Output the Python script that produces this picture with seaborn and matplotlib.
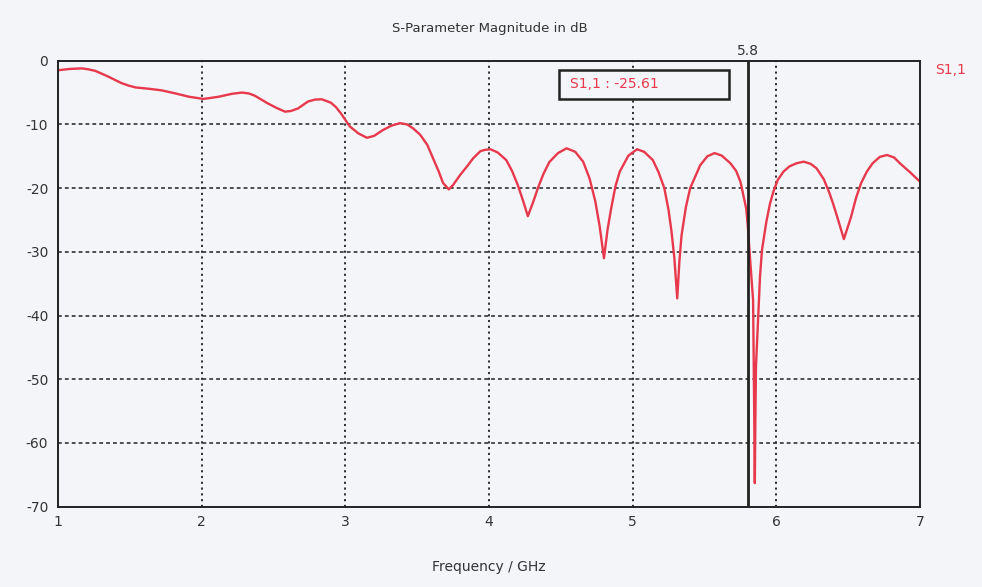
import matplotlib
matplotlib.use("Agg")
import matplotlib.pyplot as plt
from matplotlib.patches import Rectangle
import seaborn as sns
import pandas as pd

# ---- data ----
freq_ghz = [1.00, 1.014, 1.08, 1.165, 1.21, 1.26, 1.35, 1.44, 1.49, 1.54, 1.63,
            1.72, 1.81, 1.91, 2.01, 2.06, 2.12, 2.21, 2.28, 2.33, 2.37, 2.46,
            2.52, 2.58, 2.62, 2.67, 2.74, 2.79, 2.835, 2.90, 2.935, 2.97, 3.00,
            3.03, 3.09, 3.15, 3.20, 3.26, 3.32, 3.38, 3.43, 3.47, 3.52, 3.57,
            3.61, 3.65, 3.68, 3.72, 3.75, 3.80, 3.85, 3.89, 3.94, 3.97, 4.01,
            4.06, 4.12, 4.16, 4.20, 4.24, 4.27, 4.31, 4.34, 4.38, 4.42, 4.48,
            4.54, 4.60, 4.655, 4.70, 4.74, 4.77, 4.80, 4.825, 4.85, 4.88, 4.91,
            4.97, 5.03, 5.08, 5.14, 5.18, 5.22, 5.25, 5.27, 5.29, 5.31, 5.325,
            5.34, 5.37, 5.40, 5.47, 5.52, 5.57, 5.62, 5.68, 5.72, 5.75, 5.79,
            5.80, 5.816, 5.838, 5.845, 5.850, 5.853, 5.858, 5.870, 5.886, 5.90,
            5.93, 5.955, 5.98, 6.01, 6.05, 6.09, 6.14, 6.19, 6.24, 6.28, 6.33,
            6.37, 6.40, 6.43, 6.47, 6.52, 6.555, 6.59, 6.63, 6.67, 6.72,
            6.77, 6.82, 6.86, 6.93, 7.00]
s11_db = [-1.5, -1.46, -1.3, -1.2, -1.35, -1.6, -2.5, -3.5, -3.9, -4.2, -4.4,
          -4.65, -5.1, -5.65, -6.0, -5.85, -5.65, -5.2, -5.0, -5.15, -5.5, -6.7,
          -7.4, -8.0, -7.9, -7.5, -6.4, -6.1, -6.05, -6.6, -7.3, -8.3, -9.3,
          -10.3, -11.4, -12.1, -11.8, -10.9, -10.2, -9.8, -10.0, -10.6, -11.6, -13.2,
          -15.3, -17.4, -19.2, -20.2, -19.5, -17.9, -16.5, -15.3, -14.2, -14.0, -13.9,
          -14.4, -15.6, -17.3, -19.5, -22.2, -24.4, -22.0, -20.0, -17.7, -15.9, -14.5,
          -13.75, -14.3, -15.85, -18.5, -22.1, -26.0, -31.0, -26.5, -23.2, -19.7, -17.4,
          -14.9, -13.9, -14.3, -15.6, -17.5, -20.0, -23.5, -26.8, -31.0, -37.3, -31.5,
          -27.4, -23.0, -20.0, -16.4, -15.0, -14.5, -14.9, -16.1, -17.3, -19.0, -23.2,
          -25.61, -30.8, -37.6, -53.3, -66.3, -58.0, -48.0, -41.8, -33.9, -29.7,
          -25.3, -22.5, -20.5, -18.7, -17.4, -16.6, -16.1, -15.85, -16.2, -16.9, -18.6,
          -20.8, -22.8, -25.0, -28.0, -24.5, -21.5, -19.2, -17.4, -16.1, -15.1,
          -14.8, -15.2, -16.1, -17.5, -19.0]
x_ticks = [1, 2, 3, 4, 5, 6, 7]
y_ticks = [0, -10, -20, -30, -40, -50, -60, -70]
marker_freq = 5.8
marker_value = -25.61
series_name = "S1,1"

df = pd.DataFrame({"Frequency": freq_ghz, "S11": s11_db})

sns.set_style("white")
plt.rcParams["font.family"] = ["DejaVu Sans"]

bg = "#f4f5f8"
red = "#e8384c"
txt = "#333333"

fig = plt.figure(figsize=(9.82, 5.87), dpi=100, facecolor=bg)
ax = fig.add_axes([0.0591, 0.1368, 0.8778, 0.7598])
ax.set_facecolor(bg)

sns.lineplot(data=df, x="Frequency", y="S11", ax=ax, color=red, linewidth=1.7,
             estimator=None, sort=False, legend=False)

ax.set_xlim(1, 7)
ax.set_ylim(-70, 0)
ax.set_xticks(x_ticks)
ax.set_yticks(y_ticks)
ax.set_xticklabels([str(t) for t in x_ticks])
ax.set_yticklabels([str(t) for t in y_ticks])
ax.tick_params(axis="both", colors=txt, labelsize=10, length=4, width=1,
               direction="out", labelcolor=txt)
ax.tick_params(axis="y", pad=3)
ax.tick_params(axis="x", pad=2)

# grid: dotted vertical, dashed horizontal
for xv in x_ticks[1:-1]:
    ax.axvline(xv, color="#222222", linestyle=(0, (1.2, 2.0)), linewidth=1.3, zorder=0)
for yv in y_ticks[1:-1]:
    ax.axhline(yv, color="#222222", linestyle=(0, (2.5, 2.0)), linewidth=1.1, zorder=0)

for sp in ax.spines.values():
    sp.set_visible(True)
    sp.set_color("#222222")
    sp.set_linewidth(1.4)

ax.set_xlabel("Frequency / GHz", fontsize=10, color=txt, labelpad=22)
ax.set_ylabel("")
fig.text(0.4985, 0.952, "S-Parameter Magnitude in dB", ha="center", va="center",
         fontsize=9.5, color=txt)

# marker line
ax.axvline(marker_freq, color="#222222", linewidth=2.0, zorder=3)
ax.text(marker_freq, 0.4, f"{marker_freq}", ha="center", va="bottom",
        fontsize=10, color=txt, clip_on=False)

# marker value box
ax.add_patch(Rectangle((4.49, -6.0), 1.18, 4.55, facecolor=bg, edgecolor="#222222",
                       linewidth=1.8, zorder=4))
ax.text(4.565, -3.6, f"{series_name} : {marker_value}", ha="left", va="center",
        fontsize=10, color=red, zorder=5)

# series label at right
fig.text(0.952, 0.881, series_name, ha="left", va="center", fontsize=10, color=red)

fig.savefig("out.png", dpi=100, facecolor=bg)
